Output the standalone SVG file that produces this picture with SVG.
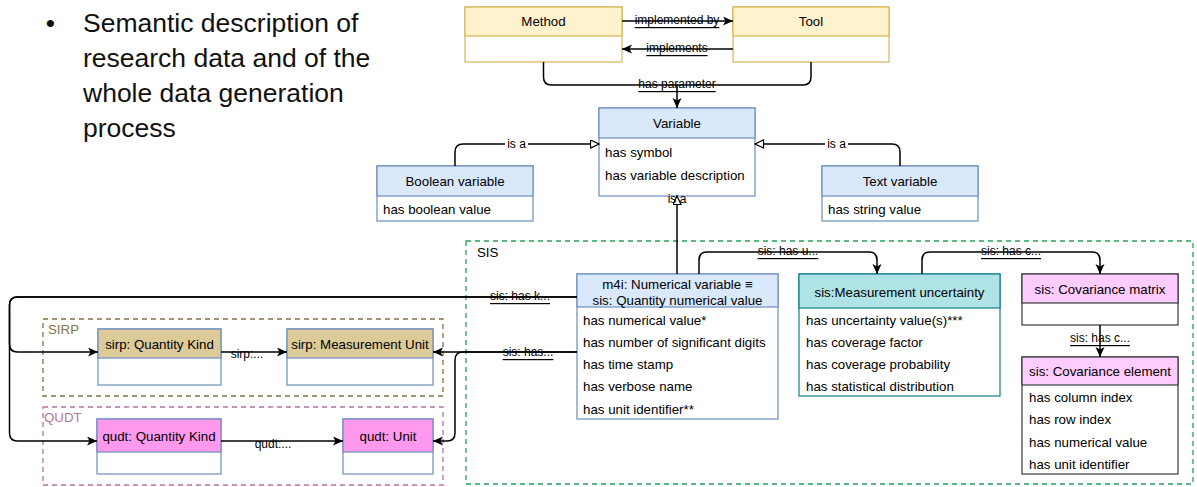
<svg xmlns="http://www.w3.org/2000/svg" width="1197" height="487" viewBox="0 0 1197 487">
<style>
  text { font-family: "Liberation Sans", Arial, sans-serif; fill: #000; }
  .hd { font-size: 13.3px; text-anchor: middle; dominant-baseline: central; }
  .row { font-size: 13.3px; dominant-baseline: central; }
  .lbl { font-size: 12px; text-anchor: middle; dominant-baseline: central; }
  .ul { text-decoration: underline; }
  .edge { fill: none; stroke: #000; stroke-width: 1.5; }
  .blue { fill: #dae8fc; stroke: #6c8ebf; stroke-width: 1.2; }
  .bluebody { fill: #fff; stroke: #6c8ebf; stroke-width: 1.2; }
  .yel { fill: #fff2cc; stroke: #d6b656; stroke-width: 1.2; }
  .yelbody { fill: #fff; stroke: #d6b656; stroke-width: 1.2; }
  .teal { fill: #b0e3e6; stroke: #0e8088; stroke-width: 1.2; }
  .tealbody { fill: #fff; stroke: #0e8088; stroke-width: 1.2; }
  .pink { fill: #ffccff; stroke: #36393d; stroke-width: 1.2; }
  .pinkbody { fill: #fff; stroke: #36393d; stroke-width: 1.2; }
  .tan { fill: #dccb99; stroke: #6c8ebf; stroke-width: 1.2; }
  .mag { fill: #ff99ee; stroke: #6c8ebf; stroke-width: 1.2; }
  .cont { fill: none; stroke-width: 1.3; stroke-dasharray: 5 4; }
  .title { font-size: 26.5px; fill: #111; }
</style>
<defs>
  <marker id="arr" markerUnits="userSpaceOnUse" markerWidth="12" markerHeight="10" refX="10" refY="4.5" orient="auto">
    <path d="M0,0 L10,4.5 L0,9 L2.5,4.5 z" fill="#000"/>
  </marker>
  <marker id="tri" markerUnits="userSpaceOnUse" markerWidth="12" markerHeight="12" refX="9.5" refY="4.5" orient="auto">
    <path d="M1,0.5 L9.5,4.5 L1,8.5 z" fill="#fff" stroke="#000" stroke-width="1.2"/>
  </marker>
</defs>

<!-- Title text -->
<g id="title">
  <text x="50.5" y="31.5" class="title" text-anchor="middle">•</text>
  <text x="83" y="31.5" class="title">Semantic description of</text>
  <text x="83" y="66.5" class="title">research data and of the</text>
  <text x="83" y="101.5" class="title">whole data generation</text>
  <text x="83" y="136.5" class="title">process</text>
</g>

<!-- Containers -->
<g id="sis-container">
  <rect x="466" y="241" width="727" height="243" class="cont" stroke="#27a15b"/>
  <text x="477" y="252" class="row">SIS</text>
</g>
<g id="sirp-container">
  <rect x="43" y="319" width="400" height="77" class="cont" stroke="#857346"/>
  <text x="48" y="329.5" class="row" style="fill:#857346">SIRP</text>
</g>
<g id="qudt-container">
  <rect x="43" y="407" width="400" height="78" class="cont" stroke="#b5739d"/>
  <text x="44" y="417" class="row" style="fill:#b5739d">QUDT</text>
</g>

<!-- Nodes -->
<g id="method">
  <rect x="465" y="7" width="157" height="55" class="yelbody"/>
  <rect x="465" y="7" width="157" height="29" class="yel"/>
  <text x="543.5" y="21.5" class="hd">Method</text>
</g>
<g id="tool">
  <rect x="733" y="7" width="156" height="55" class="yelbody"/>
  <rect x="733" y="7" width="156" height="29" class="yel"/>
  <text x="811" y="21.5" class="hd">Tool</text>
</g>
<g id="variable">
  <rect x="599" y="108" width="156" height="88" class="bluebody"/>
  <rect x="599" y="108" width="156" height="30" class="blue"/>
  <text x="677" y="123" class="hd">Variable</text>
  <text x="605" y="152" class="row">has symbol</text>
  <text x="605" y="175" class="row">has variable description</text>
</g>
<g id="boolean-variable">
  <rect x="377" y="166" width="156" height="55" class="bluebody"/>
  <rect x="377" y="166" width="156" height="30" class="blue"/>
  <text x="455" y="181" class="hd">Boolean variable</text>
  <text x="383" y="209" class="row">has boolean value</text>
</g>
<g id="text-variable">
  <rect x="822" y="166" width="156" height="55" class="bluebody"/>
  <rect x="822" y="166" width="156" height="30" class="blue"/>
  <text x="900" y="181" class="hd">Text variable</text>
  <text x="828" y="209" class="row">has string value</text>
</g>
<g id="numerical-variable">
  <rect x="577" y="274" width="201" height="145" class="bluebody"/>
  <rect x="577" y="274" width="201" height="33" class="blue"/>
  <text x="677.5" y="284" class="hd">m4i: Numerical variable ≡</text>
  <text x="677.5" y="300" class="hd">sis: Quantity numerical value</text>
  <text x="583" y="320" class="row">has numerical value*</text>
  <text x="583" y="342.5" class="row">has number of significant digits</text>
  <text x="583" y="364" class="row">has time stamp</text>
  <text x="583" y="386.5" class="row">has verbose name</text>
  <text x="583" y="409.5" class="row">has unit identifier**</text>
</g>
<g id="measurement-uncertainty">
  <rect x="799" y="274" width="201" height="122" class="tealbody"/>
  <rect x="799" y="274" width="201" height="34" class="teal"/>
  <text x="899.5" y="292" class="hd">sis:Measurement uncertainty</text>
  <text x="806" y="320" class="row">has uncertainty value(s)***</text>
  <text x="806" y="342.5" class="row">has coverage factor</text>
  <text x="806" y="364" class="row">has coverage probability</text>
  <text x="806" y="386.5" class="row">has statistical distribution</text>
</g>
<g id="covariance-matrix">
  <rect x="1022" y="274" width="156" height="51" class="pinkbody"/>
  <rect x="1022" y="274" width="156" height="29" class="pink"/>
  <text x="1100" y="289.5" class="hd">sis: Covariance matrix</text>
</g>
<g id="covariance-element">
  <rect x="1022" y="357" width="156" height="117" class="pinkbody"/>
  <rect x="1022" y="357" width="156" height="28" class="pink"/>
  <text x="1100" y="371.5" class="hd">sis: Covariance element</text>
  <text x="1029" y="397" class="row">has column index</text>
  <text x="1029" y="419.5" class="row">has row index</text>
  <text x="1029" y="442" class="row">has numerical value</text>
  <text x="1029" y="464" class="row">has unit identifier</text>
</g>
<g id="sirp-quantity-kind">
  <rect x="98" y="329" width="123" height="56" class="bluebody"/>
  <rect x="98" y="329" width="123" height="29" class="tan"/>
  <text x="159.5" y="344" class="hd">sirp: Quantity Kind</text>
</g>
<g id="sirp-measurement-unit">
  <rect x="287" y="329" width="146" height="56" class="bluebody"/>
  <rect x="287" y="329" width="146" height="29" class="tan"/>
  <text x="360" y="344" class="hd">sirp: Measurement Unit</text>
</g>
<g id="qudt-quantity-kind">
  <rect x="97" y="419" width="124" height="55" class="bluebody"/>
  <rect x="97" y="419" width="124" height="33" class="mag"/>
  <text x="159" y="436" class="hd">qudt: Quantity Kind</text>
</g>
<g id="qudt-unit">
  <rect x="343" y="419" width="90" height="55" class="bluebody"/>
  <rect x="343" y="419" width="90" height="33" class="mag"/>
  <text x="388" y="436" class="hd">qudt: Unit</text>
</g>

<!-- Connectors -->
<g id="connectors">
  <path d="M622,21 H733" class="edge" marker-end="url(#arr)"/>
  <text x="677" y="20" class="lbl ul">implemented by</text>
  <path d="M733,49 H622" class="edge" marker-end="url(#arr)"/>
  <text x="677" y="48" class="lbl ul">implements</text>

  <path d="M543.5,62 V77 Q543.5,85 551.5,85 H803 Q811,85 811,77 V62" class="edge"/>
  <path d="M677,85 V108" class="edge" marker-end="url(#arr)"/>
  <text x="677" y="84" class="lbl ul">has parameter</text>

  <path d="M455,166 V152 Q455,144 463,144 H599" class="edge" marker-end="url(#tri)"/>
  <rect x="505" y="137" width="23" height="14" fill="#fff"/>
  <text x="516.5" y="143.5" class="lbl">is a</text>
  <path d="M900,166 V152 Q900,144 892,144 H755" class="edge" marker-end="url(#tri)"/>
  <rect x="825" y="137" width="23" height="14" fill="#fff"/>
  <text x="836.5" y="143.5" class="lbl">is a</text>
  <path d="M677,274 V196" class="edge" marker-end="url(#tri)"/>
  <text x="677" y="199" class="lbl">is a</text>

  <path d="M699,274 V260 Q699,252 707,252 H869 Q877,252 877,260 V274" class="edge" marker-end="url(#arr)"/>
  <text x="788" y="251" class="lbl ul">sis: has u...</text>
  <path d="M922,274 V260 Q922,252 930,252 H1092 Q1100,252 1100,260 V274" class="edge" marker-end="url(#arr)"/>
  <text x="1011" y="251" class="lbl ul">sis: has c...</text>
  <path d="M1100,325 V357" class="edge" marker-end="url(#arr)"/>
  <text x="1100" y="338" class="lbl ul">sis: has c...</text>

  <path d="M577,297 H17.5 Q9.5,297 9.5,305 V344 Q9.5,352 17.5,352 H98" class="edge" marker-end="url(#arr)"/>
  <path d="M577,297 H17.5 Q9.5,297 9.5,305 V433 Q9.5,441 17.5,441 H97" class="edge" marker-end="url(#arr)"/>
  <text x="520" y="296" class="lbl ul">sis: has k...</text>

  <path d="M577,352 H433" class="edge" marker-end="url(#arr)"/>
  <path d="M577,352 H463 Q455,352 455,360 V433 Q455,441 447,441 H433" class="edge" marker-end="url(#arr)"/>
  <text x="528" y="352" class="lbl ul">sis: has...</text>

  <path d="M221,352 H287" class="edge" marker-end="url(#arr)"/>
  <text x="247" y="354" class="lbl">sirp:...</text>
  <path d="M221,441 H343" class="edge" marker-end="url(#arr)"/>
  <text x="273" y="444" class="lbl">qudt:...</text>
</g>
</svg>
